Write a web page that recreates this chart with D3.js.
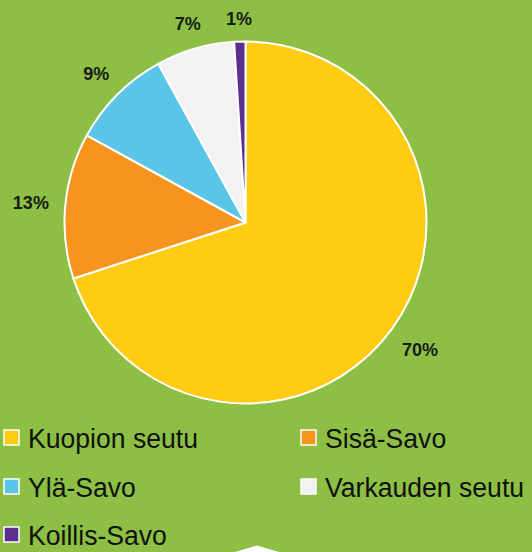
<!DOCTYPE html>
<html><head><meta charset="utf-8">
<script src="https://cdn.jsdelivr.net/npm/d3@7/dist/d3.min.js"></script>
<style>html,body{margin:0;padding:0;background:#8cbf43;}svg{display:block;}</style>
</head><body>
<svg id="chart" width="532" height="552"></svg>
<script>
const categories = ["Kuopion seutu", "Sisä-Savo", "Ylä-Savo", "Varkauden seutu", "Koillis-Savo"];
const values = [70, 13, 9, 7, 1];
const labels = ["70%", "13%", "9%", "7%", "1%"];
const colors = ["#ffcc13", "#f7931f", "#5bc5e8", "#f2f2f2", "#5c2f8f"];

const W = 532, H = 552;
const cx = 245.5, cy = 222.5, R = 181;
const svg = d3.select("#chart");
svg.append("rect").attr("width", W).attr("height", H).attr("fill", "#8cbf43");

const pie = d3.pie().sort(null).value(d => d)(values);
const arc = d3.arc().innerRadius(0).outerRadius(R);
const g = svg.append("g").attr("transform", `translate(${cx},${cy})`);
g.selectAll("path").data(pie).join("path")
  .attr("d", arc)
  .attr("fill", (d, i) => colors[i])
  .attr("stroke", "#ffffff").attr("stroke-width", 2).attr("stroke-linejoin", "round");

// outside labels: bounding box kept at a fixed gap from the rim
const gap = 16;
const txt = g.selectAll("text").data(pie).join("text")
  .attr("text-anchor", "middle")
  .attr("dy", "0.36em")
  .attr("font-family", "Liberation Sans, Arial, sans-serif")
  .attr("font-weight", "bold").attr("font-size", 18).attr("fill", "#1a1a1a")
  .text((d, i) => labels[i]);
txt.each(function(d) {
  const bb = this.getBBox();
  const a = (d.startAngle + d.endAngle) / 2;
  const ux = Math.sin(a), uy = -Math.cos(a);
  const ext = Math.abs(ux) * bb.width / 2 + Math.abs(uy) * 7;
  const r = R + gap + ext;
  d3.select(this).attr("x", r * ux).attr("y", r * uy);
});

// legend
const leg = svg.append("g");
const colX = [3, 300], rowY = [438, 487, 535];
categories.forEach((c, i) => {
  const x = colX[i % 2], y = rowY[Math.floor(i / 2)];
  leg.append("rect").attr("x", x + 1).attr("y", y - 8).attr("width", 15).attr("height", 15)
    .attr("fill", colors[i]).attr("stroke", "#ffffff").attr("stroke-width", 1.5);
  leg.append("text").attr("x", x + 25).attr("y", y).attr("dy", "0.36em")
    .attr("font-family", "Liberation Sans, Arial, sans-serif")
    .attr("font-size", 28).attr("fill", "#111")
    .attr("transform", `translate(${x + 25},0) scale(0.95,1) translate(${-(x + 25)},0)`)
    .text(c);
});

// decorative white chevron at bottom
svg.append("path").attr("d", "M235,552 L257,545.5 L279,552 Z").attr("fill", "#ffffff");
</script>
</body></html>
